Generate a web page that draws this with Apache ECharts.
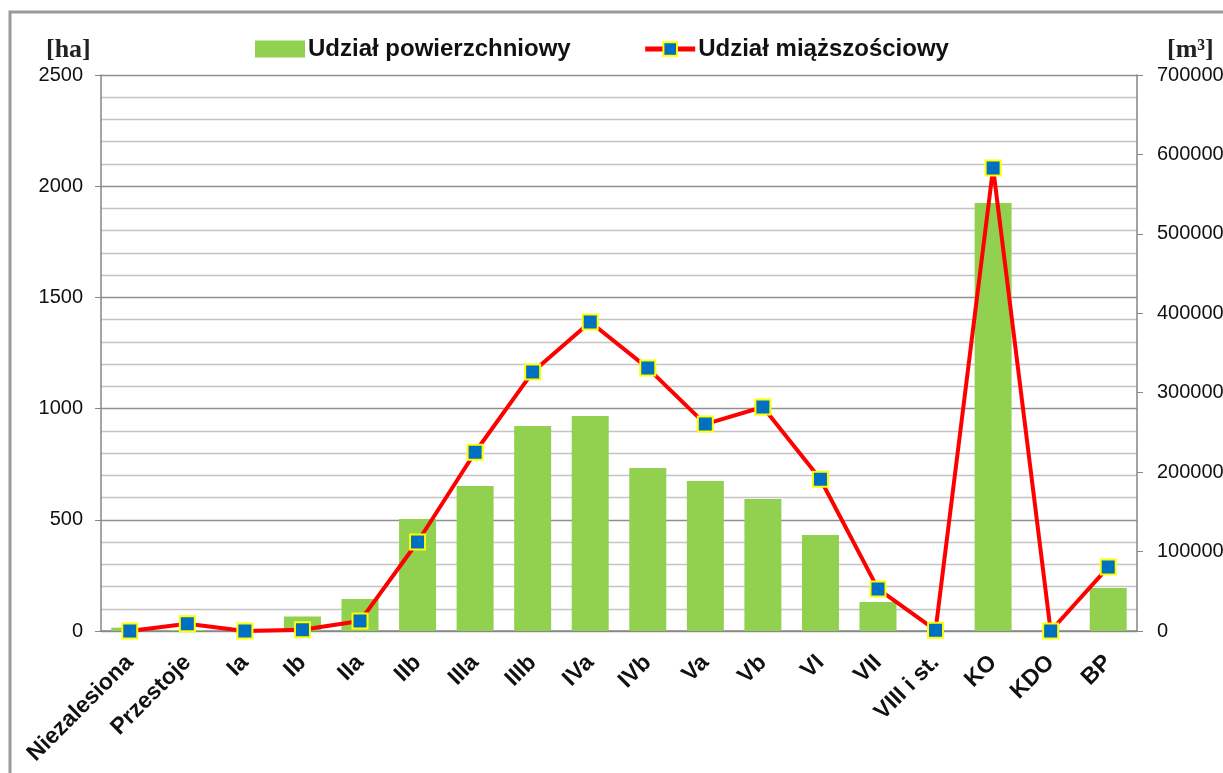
<!DOCTYPE html>
<html>
<head>
<meta charset="utf-8">
<script src="https://cdn.jsdelivr.net/npm/echarts@6/dist/echarts.min.js"></script>
<style>
  html, body { margin: 0; padding: 0; background: #fff; }
  #chart { width: 1223px; height: 773px; }
</style>
</head>
<body>
<div id="chart"></div>
<script>
const categories = ["Niezalesiona", "Przestoje", "Ia", "Ib", "IIa", "IIb", "IIIa", "IIIb", "IVa",
  "IVb", "Va", "Vb", "VI", "VII", "VIII i st.", "KO", "KDO", "BP"];
// udział powierzchniowy [ha]
const areaHa = [15, 4, 0, 65, 144, 504, 652, 922, 967, 733, 674, 594, 432, 130, 0, 1924, 0, 193];
// udział miąższościowy [m3]
const volumeM3 = [0, 9000, 0, 1500, 12500, 112000, 225000, 326000, 389000, 331000, 260500,
  282000, 191000, 53000, 1000, 583000, 0, 80500];
const leftTicks = { min: 0, max: 2500, interval: 500 };
const rightTicks = { min: 0, max: 700000, interval: 100000 };

const chart = echarts.init(document.getElementById("chart"));
const axisGray = "#868686";

const option = {
  backgroundColor: "#fff",
  animation: false,
  graphic: [
    {
      type: "rect",
      shape: { x: 10, y: 12, width: 1400, height: 900 },
      style: { fill: "none", stroke: "#9a9a9a", lineWidth: 3 }
    },
    {
      type: "text", left: 46, top: 37,
      style: { text: "[ha]", font: "bold 26px 'Liberation Serif'", fill: "#222" }
    },
    {
      type: "text", left: 1167, top: 37,
      style: { text: "[m³]", font: "bold 26px 'Liberation Serif'", fill: "#222" }
    }
  ],
  legend: {
    top: 32,
    left: 250,
    itemGap: 72,
    itemWidth: 50,
    itemHeight: 17,
    textStyle: { fontFamily: "Liberation Sans", fontWeight: "bold", fontSize: 24, color: "#111", padding: [0, 0, 0, -2] },
    data: [
      { name: "Udział powierzchniowy", icon: "rect" },
      { name: "Udział miąższościowy", itemStyle: { borderWidth: 2 }, lineStyle: { width: 5 } }
    ]
  },
  grid: { left: 101, right: 86, top: 75, bottom: 142, outerBoundsMode: "none" },
  xAxis: {
    type: "category",
    data: categories,
    axisLine: { lineStyle: { color: axisGray, width: 1.5 } },
    axisTick: { show: false },
    axisLabel: {
      rotate: 45, margin: 28, interval: 0,
      fontFamily: "Liberation Sans", fontWeight: "bold", fontSize: 23, color: "#111"
    }
  },
  yAxis: [
    {
      type: "value",
      min: leftTicks.min, max: leftTicks.max, interval: leftTicks.interval,
      axisLine: { show: true, lineStyle: { color: axisGray, width: 1.5 } },
      axisTick: { show: true, length: 6, lineStyle: { color: axisGray } },
      axisLabel: { fontFamily: "Liberation Sans", fontSize: 20, color: "#111", margin: 18, formatter: (v) => String(v) },
      splitLine: { show: true, lineStyle: { color: "#8f8f8f", width: 1.3 } },
      minorTick: { show: false, splitNumber: 5 },
      minorSplitLine: { show: true, lineStyle: { color: "#c4c4c4", width: 1.3 } }
    },
    {
      type: "value",
      min: rightTicks.min, max: rightTicks.max, interval: rightTicks.interval,
      axisLine: { show: true, lineStyle: { color: axisGray, width: 1.5 } },
      axisTick: { show: true, length: 6, lineStyle: { color: axisGray } },
      axisLabel: { fontFamily: "Liberation Sans", fontSize: 20, color: "#111", margin: 20, formatter: (v) => String(v) },
      splitLine: { show: false }
    }
  ],
  series: [
    {
      name: "Udział powierzchniowy",
      type: "bar",
      yAxisIndex: 0,
      barWidth: 37,
      itemStyle: { color: "#92D050" },
      data: areaHa
    },
    {
      name: "Udział miąższościowy",
      type: "line",
      yAxisIndex: 1,
      symbol: "rect",
      symbolSize: 15,
      lineStyle: { color: "#FF0000", width: 4 },
      itemStyle: { color: "#0070C0", borderColor: "#FFFF00", borderWidth: 2 },
      data: volumeM3,
      z: 3
    }
  ]
};

chart.setOption(option);
</script>
</body>
</html>
